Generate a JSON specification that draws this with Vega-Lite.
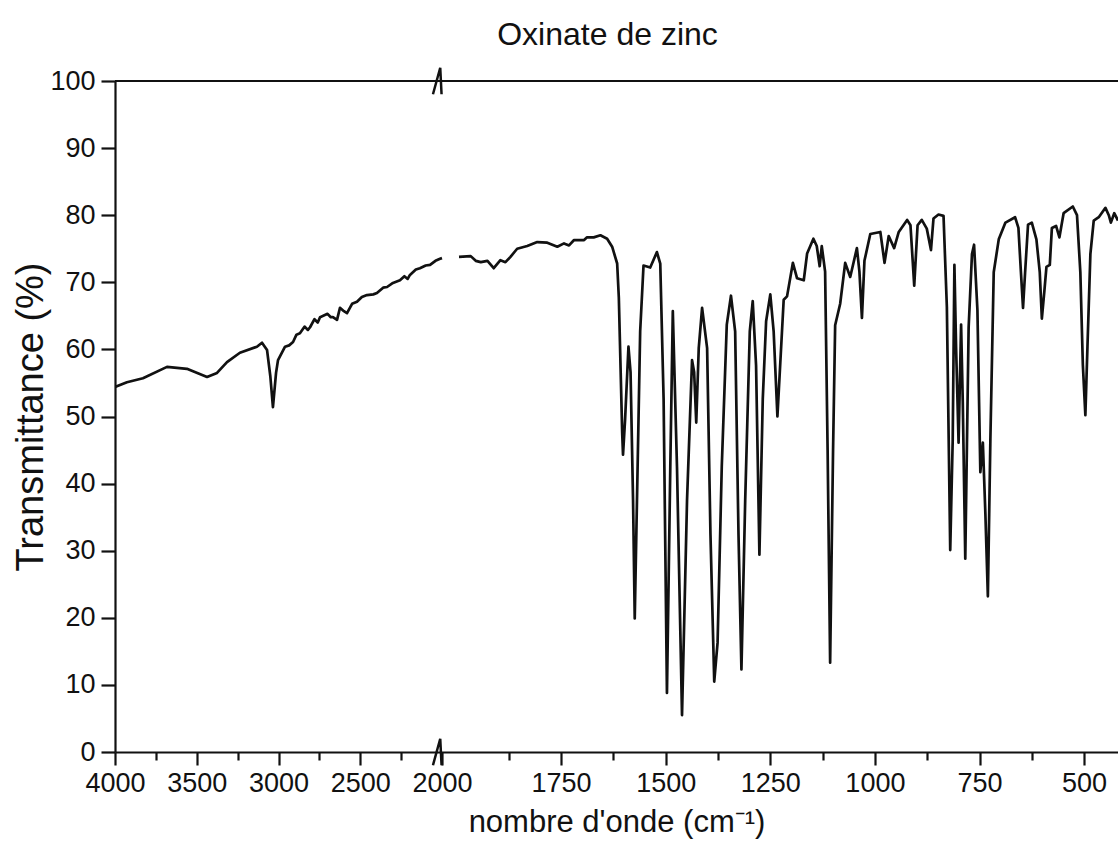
{
  "$schema": "https://vega.github.io/schema/vega-lite/v6.json",
  "autosize": "none",
  "width": 1003,
  "height": 671,
  "padding": {"left": 115, "top": 81, "right": 0, "bottom": 91},
  "background": "white",
  "title": {"text": "Oxinate de zinc", "fontSize": 32, "font": "Liberation Sans", "fontWeight": "normal", "color": "#111111", "offset": 11, "dx": -9, "anchor": "middle"},
  "datasets": {
    "spectrum": [
      {"wn": 4000, "T": 54.4, "seg": 1}, {"wn": 3927, "T": 55.1, "seg": 1}, {"wn": 3829, "T": 55.7, "seg": 1},
      {"wn": 3682, "T": 57.4, "seg": 1}, {"wn": 3560, "T": 57.1, "seg": 1}, {"wn": 3437, "T": 55.9, "seg": 1},
      {"wn": 3376, "T": 56.5, "seg": 1}, {"wn": 3315, "T": 58.1, "seg": 1}, {"wn": 3236, "T": 59.5, "seg": 1},
      {"wn": 3132, "T": 60.4, "seg": 1}, {"wn": 3101, "T": 61.0, "seg": 1}, {"wn": 3070, "T": 59.9, "seg": 1},
      {"wn": 3050, "T": 56.0, "seg": 1}, {"wn": 3034, "T": 51.4, "seg": 1}, {"wn": 3015, "T": 56.5, "seg": 1},
      {"wn": 3003, "T": 58.4, "seg": 1}, {"wn": 2960, "T": 60.4, "seg": 1}, {"wn": 2935, "T": 60.6, "seg": 1},
      {"wn": 2911, "T": 61.1, "seg": 1}, {"wn": 2890, "T": 62.2, "seg": 1}, {"wn": 2869, "T": 62.4, "seg": 1},
      {"wn": 2840, "T": 63.4, "seg": 1}, {"wn": 2820, "T": 62.9, "seg": 1}, {"wn": 2807, "T": 63.3, "seg": 1},
      {"wn": 2780, "T": 64.5, "seg": 1}, {"wn": 2760, "T": 64.0, "seg": 1}, {"wn": 2746, "T": 64.8, "seg": 1},
      {"wn": 2700, "T": 65.3, "seg": 1}, {"wn": 2680, "T": 64.8, "seg": 1}, {"wn": 2667, "T": 64.8, "seg": 1},
      {"wn": 2642, "T": 64.4, "seg": 1}, {"wn": 2624, "T": 66.2, "seg": 1}, {"wn": 2600, "T": 65.7, "seg": 1},
      {"wn": 2581, "T": 65.4, "seg": 1}, {"wn": 2550, "T": 66.8, "seg": 1}, {"wn": 2520, "T": 67.1, "seg": 1},
      {"wn": 2490, "T": 67.8, "seg": 1}, {"wn": 2459, "T": 68.1, "seg": 1}, {"wn": 2420, "T": 68.2, "seg": 1},
      {"wn": 2398, "T": 68.4, "seg": 1}, {"wn": 2360, "T": 69.2, "seg": 1}, {"wn": 2336, "T": 69.3, "seg": 1},
      {"wn": 2300, "T": 69.9, "seg": 1}, {"wn": 2257, "T": 70.3, "seg": 1}, {"wn": 2230, "T": 70.9, "seg": 1},
      {"wn": 2210, "T": 70.5, "seg": 1}, {"wn": 2196, "T": 71.1, "seg": 1}, {"wn": 2160, "T": 71.9, "seg": 1},
      {"wn": 2135, "T": 72.1, "seg": 1}, {"wn": 2100, "T": 72.5, "seg": 1}, {"wn": 2073, "T": 72.6, "seg": 1},
      {"wn": 2040, "T": 73.2, "seg": 1}, {"wn": 2012, "T": 73.5, "seg": 1}, {"wn": 2000, "T": 73.6, "seg": 1},
      {"wn": 1994, "T": 73.8, "seg": 2}, {"wn": 1966, "T": 73.9, "seg": 2}, {"wn": 1954, "T": 73.2, "seg": 2},
      {"wn": 1942, "T": 73.0, "seg": 2}, {"wn": 1926, "T": 73.2, "seg": 2}, {"wn": 1911, "T": 72.1, "seg": 2},
      {"wn": 1895, "T": 73.3, "seg": 2}, {"wn": 1883, "T": 73.0, "seg": 2}, {"wn": 1871, "T": 73.8, "seg": 2},
      {"wn": 1855, "T": 75.0, "seg": 2}, {"wn": 1831, "T": 75.4, "seg": 2}, {"wn": 1807, "T": 76.0, "seg": 2},
      {"wn": 1783, "T": 75.9, "seg": 2}, {"wn": 1759, "T": 75.3, "seg": 2}, {"wn": 1743, "T": 75.8, "seg": 2},
      {"wn": 1731, "T": 75.5, "seg": 2}, {"wn": 1719, "T": 76.3, "seg": 2}, {"wn": 1695, "T": 76.3, "seg": 2},
      {"wn": 1688, "T": 76.7, "seg": 2}, {"wn": 1672, "T": 76.7, "seg": 2}, {"wn": 1656, "T": 77.0, "seg": 2},
      {"wn": 1640, "T": 76.5, "seg": 2}, {"wn": 1628, "T": 75.3, "seg": 2}, {"wn": 1616, "T": 72.8, "seg": 2},
      {"wn": 1612, "T": 67.7, "seg": 2}, {"wn": 1608, "T": 57.6, "seg": 2}, {"wn": 1604, "T": 47.6, "seg": 2},
      {"wn": 1602, "T": 44.3, "seg": 2}, {"wn": 1597, "T": 49.6, "seg": 2}, {"wn": 1589, "T": 60.4, "seg": 2},
      {"wn": 1584, "T": 56.6, "seg": 2}, {"wn": 1578, "T": 37.5, "seg": 2}, {"wn": 1574, "T": 19.9, "seg": 2},
      {"wn": 1570, "T": 33.0, "seg": 2}, {"wn": 1561, "T": 62.7, "seg": 2}, {"wn": 1553, "T": 72.5, "seg": 2},
      {"wn": 1537, "T": 72.2, "seg": 2}, {"wn": 1521, "T": 74.5, "seg": 2}, {"wn": 1513, "T": 72.8, "seg": 2},
      {"wn": 1505, "T": 52.6, "seg": 2}, {"wn": 1497, "T": 8.8, "seg": 2}, {"wn": 1489, "T": 42.5, "seg": 2},
      {"wn": 1483, "T": 65.7, "seg": 2}, {"wn": 1473, "T": 42.5, "seg": 2}, {"wn": 1461, "T": 5.5, "seg": 2},
      {"wn": 1449, "T": 37.5, "seg": 2}, {"wn": 1437, "T": 58.4, "seg": 2}, {"wn": 1432, "T": 56.6, "seg": 2},
      {"wn": 1427, "T": 49.1, "seg": 2}, {"wn": 1421, "T": 60.2, "seg": 2}, {"wn": 1413, "T": 66.2, "seg": 2},
      {"wn": 1401, "T": 60.2, "seg": 2}, {"wn": 1393, "T": 32.4, "seg": 2}, {"wn": 1384, "T": 10.5, "seg": 2},
      {"wn": 1376, "T": 16.3, "seg": 2}, {"wn": 1366, "T": 42.5, "seg": 2}, {"wn": 1354, "T": 63.7, "seg": 2},
      {"wn": 1344, "T": 68.0, "seg": 2}, {"wn": 1334, "T": 62.7, "seg": 2}, {"wn": 1326, "T": 32.4, "seg": 2},
      {"wn": 1319, "T": 12.3, "seg": 2}, {"wn": 1310, "T": 37.5, "seg": 2}, {"wn": 1299, "T": 62.7, "seg": 2},
      {"wn": 1292, "T": 67.2, "seg": 2}, {"wn": 1284, "T": 57.6, "seg": 2}, {"wn": 1276, "T": 29.4, "seg": 2},
      {"wn": 1268, "T": 52.6, "seg": 2}, {"wn": 1260, "T": 64.2, "seg": 2}, {"wn": 1250, "T": 68.2, "seg": 2},
      {"wn": 1242, "T": 62.7, "seg": 2}, {"wn": 1233, "T": 50.0, "seg": 2}, {"wn": 1218, "T": 67.4, "seg": 2},
      {"wn": 1210, "T": 67.9, "seg": 2}, {"wn": 1196, "T": 72.9, "seg": 2}, {"wn": 1186, "T": 70.6, "seg": 2},
      {"wn": 1170, "T": 70.3, "seg": 2}, {"wn": 1162, "T": 74.3, "seg": 2}, {"wn": 1147, "T": 76.5, "seg": 2},
      {"wn": 1139, "T": 75.4, "seg": 2}, {"wn": 1132, "T": 72.4, "seg": 2}, {"wn": 1127, "T": 75.4, "seg": 2},
      {"wn": 1119, "T": 71.6, "seg": 2}, {"wn": 1113, "T": 45.0, "seg": 2}, {"wn": 1107, "T": 13.3, "seg": 2},
      {"wn": 1100, "T": 45.0, "seg": 2}, {"wn": 1095, "T": 63.6, "seg": 2}, {"wn": 1083, "T": 66.8, "seg": 2},
      {"wn": 1071, "T": 72.9, "seg": 2}, {"wn": 1059, "T": 70.8, "seg": 2}, {"wn": 1043, "T": 75.1, "seg": 2},
      {"wn": 1037, "T": 71.6, "seg": 2}, {"wn": 1031, "T": 64.7, "seg": 2}, {"wn": 1025, "T": 73.2, "seg": 2},
      {"wn": 1011, "T": 77.2, "seg": 2}, {"wn": 987, "T": 77.5, "seg": 2}, {"wn": 977, "T": 72.9, "seg": 2},
      {"wn": 967, "T": 76.9, "seg": 2}, {"wn": 954, "T": 75.1, "seg": 2}, {"wn": 943, "T": 77.5, "seg": 2},
      {"wn": 923, "T": 79.3, "seg": 2}, {"wn": 915, "T": 78.5, "seg": 2}, {"wn": 906, "T": 69.5, "seg": 2},
      {"wn": 898, "T": 78.5, "seg": 2}, {"wn": 888, "T": 79.3, "seg": 2}, {"wn": 876, "T": 78.0, "seg": 2},
      {"wn": 866, "T": 74.8, "seg": 2}, {"wn": 860, "T": 79.5, "seg": 2}, {"wn": 848, "T": 80.1, "seg": 2},
      {"wn": 836, "T": 79.9, "seg": 2}, {"wn": 828, "T": 66.3, "seg": 2}, {"wn": 820, "T": 30.1, "seg": 2},
      {"wn": 814, "T": 46.6, "seg": 2}, {"wn": 810, "T": 72.6, "seg": 2}, {"wn": 806, "T": 60.4, "seg": 2},
      {"wn": 800, "T": 46.1, "seg": 2}, {"wn": 794, "T": 63.7, "seg": 2}, {"wn": 790, "T": 52.2, "seg": 2},
      {"wn": 784, "T": 28.8, "seg": 2}, {"wn": 776, "T": 63.2, "seg": 2}, {"wn": 768, "T": 74.2, "seg": 2},
      {"wn": 763, "T": 75.6, "seg": 2}, {"wn": 755, "T": 65.9, "seg": 2}, {"wn": 748, "T": 41.7, "seg": 2},
      {"wn": 742, "T": 46.1, "seg": 2}, {"wn": 736, "T": 35.6, "seg": 2}, {"wn": 730, "T": 23.2, "seg": 2},
      {"wn": 724, "T": 46.6, "seg": 2}, {"wn": 716, "T": 71.5, "seg": 2}, {"wn": 704, "T": 76.4, "seg": 2},
      {"wn": 688, "T": 78.9, "seg": 2}, {"wn": 665, "T": 79.7, "seg": 2}, {"wn": 657, "T": 78.1, "seg": 2},
      {"wn": 651, "T": 71.5, "seg": 2}, {"wn": 646, "T": 66.2, "seg": 2}, {"wn": 641, "T": 71.5, "seg": 2},
      {"wn": 634, "T": 78.6, "seg": 2}, {"wn": 625, "T": 78.9, "seg": 2}, {"wn": 614, "T": 76.4, "seg": 2},
      {"wn": 606, "T": 71.5, "seg": 2}, {"wn": 601, "T": 64.6, "seg": 2}, {"wn": 595, "T": 68.7, "seg": 2},
      {"wn": 590, "T": 72.3, "seg": 2}, {"wn": 582, "T": 72.6, "seg": 2}, {"wn": 577, "T": 78.1, "seg": 2},
      {"wn": 567, "T": 78.4, "seg": 2}, {"wn": 559, "T": 76.7, "seg": 2}, {"wn": 549, "T": 80.3, "seg": 2},
      {"wn": 527, "T": 81.3, "seg": 2}, {"wn": 517, "T": 80.0, "seg": 2}, {"wn": 509, "T": 71.5, "seg": 2},
      {"wn": 503, "T": 57.7, "seg": 2}, {"wn": 497, "T": 50.2, "seg": 2}, {"wn": 492, "T": 60.4, "seg": 2},
      {"wn": 485, "T": 74.2, "seg": 2}, {"wn": 477, "T": 79.2, "seg": 2}, {"wn": 465, "T": 79.7, "seg": 2},
      {"wn": 449, "T": 81.1, "seg": 2}, {"wn": 441, "T": 80.0, "seg": 2}, {"wn": 436, "T": 78.9, "seg": 2},
      {"wn": 428, "T": 80.3, "seg": 2}, {"wn": 419, "T": 79.2, "seg": 2}
    ]
  },
  "config": {
    "view": {"stroke": null},
    "font": "Liberation Sans",
    "axis": {
      "grid": false,
      "domainColor": "#111111",
      "domainWidth": 2.2,
      "tickColor": "#111111",
      "tickWidth": 2.2,
      "labelColor": "#111111",
      "titleColor": "#111111",
      "labelFont": "Liberation Sans",
      "titleFont": "Liberation Sans",
      "labelFontSize": 27,
      "titleFontSize": 31,
      "titleFontWeight": "normal",
      "labelOverlap": false,
      "labelFlush": false
    }
  },
  "layer": [
    {
      "data": {"name": "spectrum"},
      "mark": {"type": "line", "color": "#111111", "strokeWidth": 2.7, "clip": true, "interpolate": "linear", "strokeJoin": "round"},
      "encoding": {
        "x": {
          "field": "wn",
          "type": "quantitative",
          "scale": {"domain": [4000, 2000, 1994, 419], "range": [0, 327, 344, 1003], "nice": false, "zero": false},
          "axis": {
            "values": [4000, 3750, 3500, 3250, 3000, 2750, 2500, 2250, 2000, 1875, 1750, 1625, 1500, 1375, 1250, 1125, 1000, 875, 750, 625, 500],
            "format": "d",
            "labelExpr": "(datum.value >= 2000 ? datum.value % 500 == 0 : datum.value % 250 == 0) ? datum.label : ''",
            "tickSize": {"condition": {"test": "(datum.value >= 2000 ? datum.value % 500 == 0 : datum.value % 250 == 0)", "value": 13}, "value": 8},
            "labelPadding": 5,
            "title": "nombre d'onde (cm⁻¹)",
            "titlePadding": 11
          }
        },
        "y": {
          "field": "T",
          "type": "quantitative",
          "scale": {"domain": [0, 100], "nice": false, "zero": false},
          "axis": {
            "values": [0, 5, 10, 15, 20, 25, 30, 35, 40, 45, 50, 55, 60, 65, 70, 75, 80, 85, 90, 95, 100],
            "labelExpr": "datum.value % 10 == 0 ? datum.label : ''",
            "tickSize": {"condition": {"test": "datum.value % 10 == 0", "value": 14}, "value": 8},
            "labelPadding": 6,
            "title": "Transmittance (%)",
            "titleFontSize": 38,
            "titlePadding": -1
          }
        },
        "detail": {"field": "seg", "type": "nominal"}
      }
    },
    {
      "data": {"values": [{}]},
      "mark": {"type": "rule", "color": "#111111", "strokeWidth": 2.2},
      "encoding": {"y": {"datum": 100}}
    },
    {
      "data": {"values": [{}]},
      "mark": {"type": "point", "shape": "M-0.3,1L0.25,-1L0.35,1", "filled": false, "stroke": "#111111", "strokeWidth": 2.5, "size": 700, "opacity": 1},
      "encoding": {"x": {"datum": 2031}, "y": {"datum": 100}}
    },
    {
      "data": {"values": [{}]},
      "mark": {"type": "point", "shape": "M-0.3,1L0.25,-1L0.35,1", "filled": false, "stroke": "#111111", "strokeWidth": 2.5, "size": 700, "opacity": 1},
      "encoding": {"x": {"datum": 2031}, "y": {"datum": 0}}
    }
  ]
}
